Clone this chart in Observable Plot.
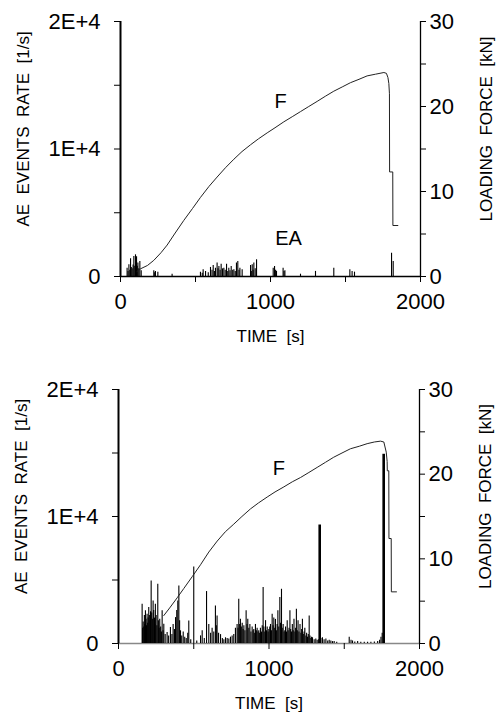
<!DOCTYPE html>
<html><head><meta charset="utf-8">
<script src="https://cdn.jsdelivr.net/npm/d3@7"></script>
<script src="https://cdn.jsdelivr.net/npm/@observablehq/plot@0.6"></script>
<style>body{margin:0;background:#fff;} #chart{width:502px;} #chart svg{display:block;} #chart text{white-space:pre;}</style>
</head><body><div id="chart"></div>
<script>
// ---- axis ticks / labels ----
const xTicks = [0, 500, 1000, 1500, 2000];
const xLabels = ["0", "", "1000", "", "2000"];
const eaTicks = [0, 5000, 10000, 15000, 20000];
const eaLabels = ["0", "", "1E+4", "", "2E+4"];
const fTicks = [0, 5, 10, 15, 20, 25, 30];
const fLabels = ["0", "", "10", "", "20", "", "30"];
const xTitle = "TIME  [s]";
const eaTitle = "AE  EVENTS  RATE  [1/s]";
const fTitle = "LOADING  FORCE  [kN]";

// ---- top panel: loading force (kN) ----
const topForceT = [110, 133, 180, 222, 270, 311, 360, 422, 480, 533, 590, 644, 700, 756, 810, 867, 920, 978, 1030, 1089, 1145, 1200, 1255, 1311, 1365, 1422, 1478, 1533, 1590, 1644, 1700, 1756, 1773, 1783, 1789, 1793, 1794, 1815, 1816, 1849];
const topForceF = [0.6, 0.9, 1.3, 1.9, 2.8, 3.7, 5.0, 6.6, 8.0, 9.3, 10.6, 11.7, 12.8, 13.8, 14.7, 15.5, 16.2, 16.9, 17.5, 18.2, 18.8, 19.4, 20.0, 20.6, 21.2, 21.8, 22.3, 22.8, 23.2, 23.6, 23.8, 24.0, 23.9, 23.4, 22.7, 21.5, 12.3, 12.3, 6.0, 6.0];
// ---- top panel: AE events rate (1/s) ----
const topEaT = [44, 50, 56, 62, 67, 72, 78, 84, 89, 95, 100, 104, 107, 112, 116, 122, 129, 138, 222, 228, 233, 249, 344, 533, 545, 551, 567, 585, 600, 610, 618, 626, 633, 644, 650, 656, 664, 671, 680, 689, 698, 707, 715, 722, 730, 738, 748, 756, 765, 773, 782, 790, 796, 811, 867, 872, 878, 884, 889, 898, 907, 1018, 1027, 1034, 1040, 1084, 1090, 1096, 1200, 1300, 1422, 1529, 1544, 1560, 1807, 1818];
const topEaV = [650, 400, 920, 500, 1390, 700, 600, 900, 1570, 800, 1700, 1200, 1550, 800, 1050, 600, 1180, 450, 445, 300, 390, 340, 180, 340, 250, 525, 400, 300, 710, 500, 865, 400, 650, 1050, 600, 790, 500, 970, 600, 640, 500, 970, 400, 650, 450, 780, 500, 520, 400, 1050, 1180, 500, 650, 520, 860, 400, 920, 500, 1050, 600, 1310, 650, 790, 500, 400, 650, 400, 450, 180, 400, 650, 520, 400, 340, 1830, 1180];
const topNotes = [{t: 1067, v: 13700, s: "F"}, {t: 1120, v: 3000, s: "EA"}];

// ---- bottom panel: loading force (kN) ----
const botForceT = [301, 340, 390, 434, 490, 545, 600, 656, 710, 766, 820, 877, 930, 988, 1040, 1099, 1155, 1209, 1265, 1320, 1375, 1430, 1485, 1541, 1600, 1652, 1700, 1741, 1763, 1779, 1785, 1786, 1796, 1797, 1812, 1813, 1847];
const botForceF = [3.3, 4.2, 5.4, 6.5, 7.9, 9.3, 10.8, 12.1, 13.2, 14.1, 15.0, 15.9, 16.6, 17.3, 17.9, 18.5, 19.1, 19.6, 20.2, 20.8, 21.4, 22.0, 22.5, 23.0, 23.3, 23.6, 23.8, 23.9, 23.8, 22.6, 21.5, 20.4, 20.4, 12.4, 12.4, 6.1, 6.1];
// ---- bottom panel: AE events rate (1/s) ----
const botEaT = [157,160,164,168,172,175,179,183,186,190,194,197,201,205,210,213,217,221,225,230,234,239,242,245,250,255,261,265,270,274,280,285,290,296,301,310,323,333,345,355,363,372,379,387,394,401,406,412,420,430,440,450,460,467,480,500,520,545,556,570,585,600,612,622,633,644,650,655,665,678,690,700,711,722,733,744,755,766,777,788,794,799,805,810,816,822,828,833,840,848,854,859,866,873,880,888,894,899,905,910,916,921,927,932,938,943,950,955,961,966,972,977,983,988,994,999,1005,1010,1016,1021,1027,1032,1038,1043,1049,1054,1059,1065,1072,1077,1083,1088,1094,1100,1105,1110,1116,1121,1127,1133,1139,1144,1150,1155,1161,1166,1172,1177,1182,1188,1193,1199,1206,1212,1217,1222,1228,1233,1238,1245,1250,1256,1261,1267,1272,1278,1283,1289,1300,1311,1320,1330,1337,1345,1355,1366,1378,1390,1400,1411,1422,1433,1450,1533,1545,1555,1570,1589,1610,1633,1655,1677,1700,1722,1735,1744,1752,1762];
const botEaV = [3090,1200,1700,1300,2200,1500,2570,1900,1400,2300,1600,2000,2830,2200,1800,2500,4930,2400,1900,3350,2600,2000,1500,3090,2200,1400,4660,1800,1200,1910,1300,900,2570,1000,1520,700,865,600,1260,700,1500,1100,2040,2600,3350,4530,1800,1000,600,900,500,400,800,1780,300,6030,200,600,1000,400,4090,1500,800,1200,900,2960,1400,2170,800,700,400,300,450,400,350,500,600,700,1200,1500,1200,3480,1500,1900,1300,1600,1100,1400,1000,2570,1500,1900,1200,1500,900,1300,1000,1100,800,1500,1000,1200,900,1000,800,1200,900,1400,4400,1300,900,1800,1000,1300,900,1100,1300,1500,1000,2300,1400,2000,1200,1900,1000,1500,2570,1300,3620,1600,4270,1200,1500,900,1000,1300,900,1800,1000,1200,2570,1100,900,1500,1000,1900,900,1200,2700,1000,1800,900,1500,800,1100,1900,700,900,1200,600,800,500,700,2170,600,400,500,450,300,350,250,300,9330,400,450,300,350,200,250,200,150,150,100,500,250,200,120,150,100,100,100,100,120,150,250,500,800,14900];
const botNotes = [{t: 1065, v: 13760, s: "F"}];

const fToEa = f => f * 20000 / 30;

function panel(cfg) {
  const force = cfg.forceT.map((t, i) => ({t, f: cfg.forceF[i]}));
  const ea = cfg.eaT.map((t, i) => ({t, v: cfg.eaV[i]}));
  const fTickVals = fTicks.map(fToEa);
  const font = "'Liberation Sans', Arial, Helvetica, sans-serif";
  return Plot.plot({
    width: 502, height: cfg.height,
    marginLeft: cfg.ml, marginRight: cfg.mr, marginTop: cfg.mt, marginBottom: cfg.mb,
    x: {domain: [0, 2000]},
    y: {domain: [0, 20000]},
    style: {fontFamily: font, background: "white", color: "black", overflow: "visible"},
    marks: [
      Plot.ruleY([0], {stroke: cfg.baseColor, strokeWidth: 1.4}),
      Plot.ruleX(ea.filter(d => d.v < 9000), {x: "t", y1: 0, y2: "v", stroke: "black", strokeWidth: 1.1}),
      Plot.ruleX(ea.filter(d => d.v >= 9000), {x: "t", y1: 0, y2: "v", stroke: "black", strokeWidth: 2.6}),
      Plot.line(force, {x: "t", y: d => fToEa(d.f), stroke: "#222", strokeWidth: 1}),
      Plot.ruleX([0], {stroke: "black", strokeWidth: 2}),
      Plot.ruleX([2000], {stroke: "black", strokeWidth: 1.3}),
      Plot.axisX(xTicks, {anchor: "bottom", tickSize: 6, tickPadding: 11, fontSize: 22, label: null,
        tickFormat: d => xLabels[xTicks.indexOf(d)]}),
      Plot.axisY(eaTicks, {anchor: "left", tickSize: 6, tickPadding: 14, fontSize: 22, label: null,
        tickFormat: d => eaLabels[eaTicks.indexOf(d)]}),
      Plot.axisY(fTickVals, {anchor: "right", tickSize: 5, tickPadding: 4, fontSize: 22, label: null,
        tickFormat: d => fLabels[fTickVals.indexOf(d)]}),
      Plot.text(cfg.notes, {x: "t", y: "v", text: "s", fontSize: 20, fill: "black"}),
      Plot.text([xTitle], {text: d => d, frameAnchor: "bottom", textAnchor: "middle", lineAnchor: "middle", dy: 60, fontSize: 17, fill: "black"}),
      Plot.text([eaTitle], {text: d => d, frameAnchor: "left", textAnchor: "middle", lineAnchor: "middle", dx: -97, dy: -20, rotate: -90, fontSize: 17, fill: "black"}),
      Plot.text([fTitle], {text: d => d, frameAnchor: "right", textAnchor: "middle", lineAnchor: "middle", dx: 66, dy: -20, rotate: -90, fontSize: 17, fill: "black"})
    ]
  });
}

const root = document.getElementById("chart");
root.append(panel({height: 360, ml: 120, mr: 82, mt: 21, mb: 84, baseColor: "black",
  forceT: topForceT, forceF: topForceF, eaT: topEaT, eaV: topEaV, notes: topNotes}));
root.append(panel({height: 361, ml: 118, mr: 83, mt: 29, mb: 78, baseColor: "#888",
  forceT: botForceT, forceF: botForceF, eaT: botEaT, eaV: botEaV, notes: botNotes}));
</script></body></html>
